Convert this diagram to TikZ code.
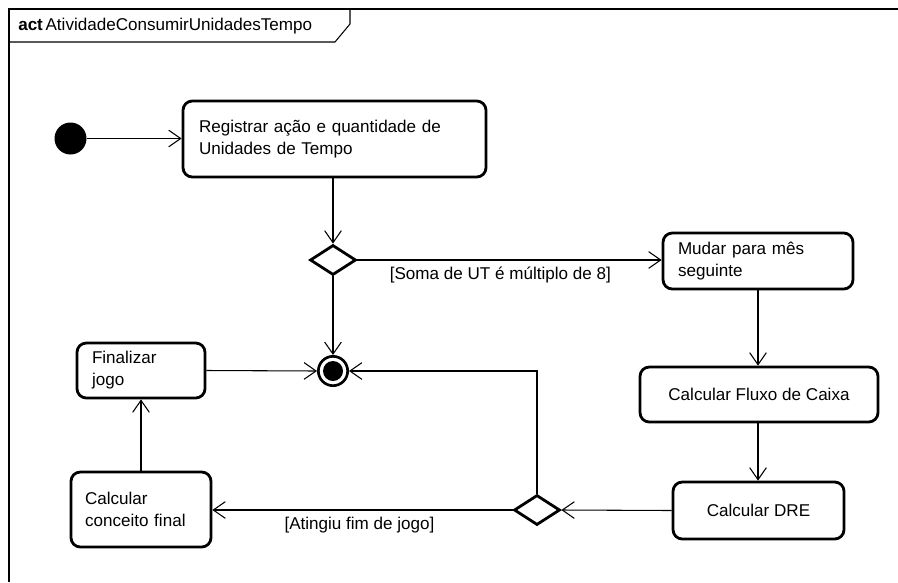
\documentclass[tikz,border=0pt]{standalone}
\usepackage{fontspec}
\setmainfont{Liberation Sans}
\usetikzlibrary{arrows.meta,shapes.geometric}

\begin{document}
\begin{tikzpicture}[x=0.75pt,y=-0.75pt,
  every node/.style={font=\fontsize{12.8}{16.5}\selectfont},
  >={Straight Barb[length=9pt,width=12.5pt]},
  flow/.style={->,line width=0.8pt},
  action/.style={draw,line width=2.1pt,rounded corners=7pt,fill=white,inner ysep=0pt},
  decision/.style={diamond,draw,line width=2.1pt,fill=white,inner sep=0pt,minimum width=34.5pt,minimum height=22.5pt},
  startnode/.style={circle,fill=black,inner sep=0pt,minimum size=24pt},
  endnode/.style={circle,draw,line width=2pt,fill=white,inner sep=0pt,minimum size=22pt,
    path picture={\fill[black] (path picture bounding box.center) circle (7.5pt);}},
  guard/.style={inner xsep=2pt,inner ysep=5pt}]
  \useasboundingbox (0,0) rectangle (898,582);
  % frame
  \draw[line width=0.8pt] (9,582) -- (9,9) -- (898,9);
  \draw[line width=0.8pt] (9,42) -- (335,42) -- (350,24) -- (350,9);
  \node[anchor=west,inner sep=0pt] (titulo) at (18,26) {\textbf{act}\kern2pt AtividadeConsumirUnidadesTempo};

  % nodes
  \node[startnode] (inicio) at (70.5,138.5) {};
  \node[action,minimum width=227.25pt,minimum height=57pt,text width=203.25pt,inner xsep=12pt,align=left] (registrar) at (334.5,139) {Registrar ação e quantidade de\\Unidades de Tempo};
  \node[decision] (d1) at (333,260) {};
  \node[action,minimum width=142.5pt,minimum height=42pt,text width=120pt,inner xsep=11.25pt,align=left] (mudar) at (758,261) {Mudar para mês\\seguinte};
  \node[action,minimum width=178.5pt,minimum height=41.25pt] (fluxo) at (759,394.5) {Calcular Fluxo de Caixa};
  \node[action,minimum width=128.25pt,minimum height=42.75pt] (dre) at (758.5,510.5) {Calcular DRE};
  \node[decision] (d2) at (537,510) {};
  \node[endnode] (fim) at (333,371) {};
  \node[action,minimum width=96pt,minimum height=41.25pt,text width=73.5pt,inner xsep=11.25pt,align=left] (finalizar) at (141,370.5) {Finalizar\\jogo};
  \node[action,minimum width=105pt,minimum height=56.25pt,text width=84pt,inner xsep=10.5pt,align=left] (conceito) at (141,509.5) {Calcular\\conceito final};

  % flows
  \draw[flow] (inicio) -- (inicio -| registrar.west);
  \draw[flow] (registrar.south -| d1) -- (d1.north);
  \draw[flow] (d1.east) -- (mudar.west |- d1) node[guard,below,pos=0.47] (g1) {[Soma de UT é múltiplo de 8]};
  \draw[flow] (d1.south) -- (fim.north);
  \draw[flow] (mudar.south) -- (mudar.south |- fluxo.north);
  \draw[flow] (fluxo.south -| mudar.south) -- (mudar.south |- dre.north);
  \draw[flow] (dre.west) -- (d2.east);
  \draw[flow] (d2.west) -- (conceito.east |- d2) node[guard,below,pos=0.51] (g2) {[Atingiu fim de jogo]};
  \draw[flow] (d2.north) |- (fim.east);
  \draw[flow] (conceito.north) -- (finalizar.south);
  \draw[flow] (finalizar.east) -- (fim.west);
\end{tikzpicture}
\end{document}
